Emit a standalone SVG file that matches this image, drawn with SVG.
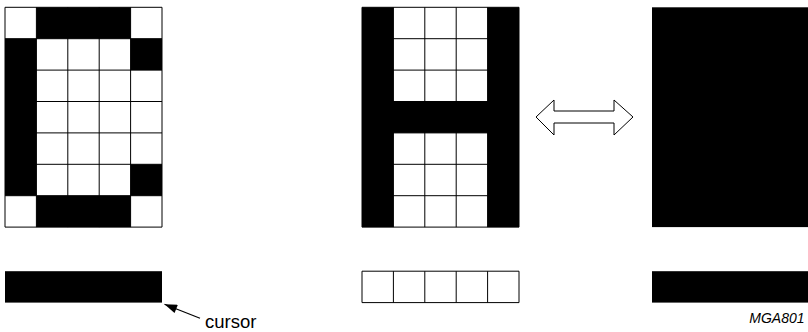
<svg xmlns="http://www.w3.org/2000/svg" width="808" height="332" viewBox="0 0 808 332">
<style>
.bg{fill:#fff}
.blk{fill:#000}
.grid{stroke:#000;stroke-width:1;fill:none}
.txt{font-family:"Liberation Sans",Arial,sans-serif;fill:#000}
</style>
<defs>
<marker id="ah" viewBox="0 0 14 10" refX="14" refY="5" markerWidth="14" markerHeight="9" markerUnits="userSpaceOnUse" orient="auto">
<path d="M0,0 L14,5 L0,10 Z" fill="#000"/>
</marker>
<path id="grid5x7" class="grid" d="M0,0V219.8M31.4,0V219.8M62.8,0V219.8M94.2,0V219.8M125.6,0V219.8M157,0V219.8M0,0H157M0,31.4H157M0,62.8H157M0,94.2H157M0,125.6H157M0,157H157M0,188.4H157M0,219.8H157"/>
<path id="grid5x1" class="grid" d="M0,0V31.4M31.4,0V31.4M62.8,0V31.4M94.2,0V31.4M125.6,0V31.4M157,0V31.4M0,0H157M0,31.4H157"/>
</defs>
<rect width="808" height="332" fill="#fff"/>
<g id="glyph-c" transform="translate(5,7.3)">
<rect class="bg" width="157" height="219.8"/>
<rect class="blk" x="31.4" y="0" width="94.2" height="31.4"/>
<rect class="blk" x="0" y="31.4" width="31.4" height="157"/>
<rect class="blk" x="125.6" y="31.4" width="31.4" height="31.4"/>
<rect class="blk" x="125.6" y="157" width="31.4" height="31.4"/>
<rect class="blk" x="31.4" y="188.4" width="94.2" height="31.4"/>
<use href="#grid5x7"/>
</g>
<g id="glyph-h" transform="translate(362,7.3)">
<rect class="bg" width="157" height="219.8"/>
<rect class="blk" x="0" y="0" width="31.4" height="219.8"/>
<rect class="blk" x="125.6" y="0" width="31.4" height="219.8"/>
<rect class="blk" x="0" y="94.2" width="157" height="31.4"/>
<use href="#grid5x7"/>
</g>
<g id="glyph-block" transform="translate(652,7.3)">
<rect class="blk" width="157" height="219.8"/>
</g>
<g id="cursor-left" transform="translate(5,271.2)">
<rect class="blk" width="157" height="31.4"/>
</g>
<g id="cursor-middle" transform="translate(362,271.2)">
<rect class="bg" width="157" height="31.4"/>
<use href="#grid5x1"/>
</g>
<g id="cursor-right" transform="translate(652,271.2)">
<rect class="blk" width="157" height="31.4"/>
</g>
<g id="double-arrow">
<path d="M536,117 L554,100 L554,111 L614,111 L614,100 L633,117 L614,135 L614,123 L554,123 L554,135 Z" fill="#fff" stroke="#000" stroke-width="1"/>
</g>
<g id="connectors">
<line x1="200" y1="318.3" x2="164.5" y2="304.2" stroke="#000" stroke-width="1.2" marker-end="url(#ah)"/>
</g>
<g id="labels">
<text class="txt" x="205" y="328.3" font-size="18.5">cursor</text>
<text class="txt" x="804.5" y="323.3" font-size="14" font-style="italic" text-anchor="end">MGA801</text>
</g>
</svg>
